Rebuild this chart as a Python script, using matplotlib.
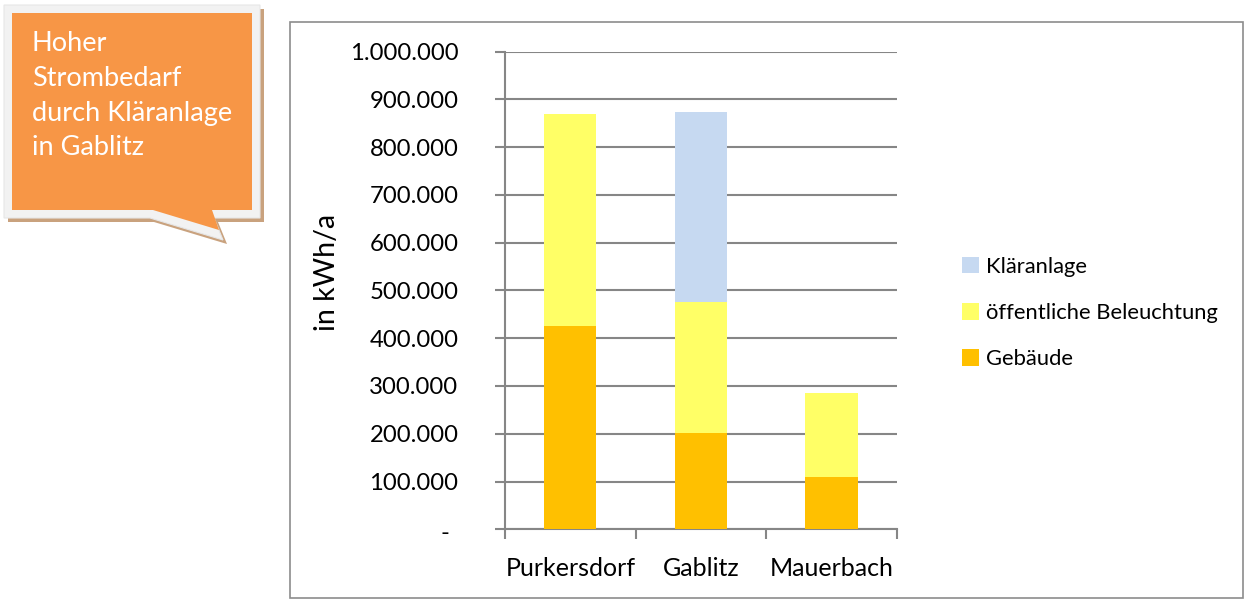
import matplotlib
matplotlib.use("Agg")
import matplotlib.pyplot as plt
from matplotlib.patches import Polygon, Rectangle
import numpy as np

plt.rcParams['font.family'] = ['Lato', 'DejaVu Sans']

categories = ["Purkersdorf", "Gablitz", "Mauerbach"]
gebaeude = [426000, 202000, 110000]
beleuchtung = [443000, 274000, 175000]
klaeranlage = [0, 397000, 0]
series_names = ["Gebäude", "öffentliche Beleuchtung", "Kläranlage"]
colors = ["#FFC000", "#FFFF66", "#C6D9F1"]
yticks = [0, 100000, 200000, 300000, 400000, 500000, 600000, 700000, 800000, 900000, 1000000]
callout_text = "Hoher\nStrombedarf\ndurch Kläranlage\nin Gablitz"

W, H = 1244, 601
fig = plt.figure(figsize=(W / 100, H / 100), dpi=100)

# overlay for frame and callout (pixel coords)
ov = fig.add_axes([0, 0, 1, 1], zorder=0)
ov.set_xlim(0, W)
ov.set_ylim(H, 0)
ov.axis("off")
ov.add_patch(Rectangle((290, 22), 953, 576, fill=False, edgecolor="#8C8C8C", linewidth=1.2))

frame = [(4, 5), (260, 5), (260, 218), (214, 218), (223, 240), (150, 218), (4, 218)]
shadow = [(x + 4, y + 4) for x, y in frame]
ov.add_patch(Polygon(shadow, closed=True, facecolor="#C9A27E", edgecolor="none"))
ov.add_patch(Polygon(frame, closed=True, facecolor="#F2F2F2", edgecolor="#E6E6E6", linewidth=0.8))
orange = [(12, 13), (252, 13), (252, 210), (212, 210), (219, 230), (153, 210), (12, 210)]
ov.add_patch(Polygon(orange, closed=True, facecolor="#F79646", edgecolor="none"))
ov.text(32, 31, callout_text, color="white", fontsize=19.5, va="top", ha="left",
        linespacing=1.49)

ax = fig.add_axes([505 / W, 1 - 529.3 / H, (896.7 - 505) / W, (529.3 - 51.5) / H], zorder=1)
ax.patch.set_alpha(0)
x = np.arange(len(categories))
width = 0.4
b1 = ax.bar(x, gebaeude, width, color=colors[0], label=series_names[0], zorder=3)
b2 = ax.bar(x, beleuchtung, width, bottom=gebaeude, color=colors[1], label=series_names[1], zorder=3)
bottom3 = np.array(gebaeude) + np.array(beleuchtung)
b3 = ax.bar(x, klaeranlage, width, bottom=bottom3, color=colors[2], label=series_names[2], zorder=3)

ax.set_xlim(-0.5, 2.5)
ax.set_ylim(0, 1000000)
ax.set_yticks(yticks)
labels = [f"{v:,.0f}".replace(",", ".") if v else "" for v in yticks]
ax.set_yticklabels(labels, fontsize=17.2)
ax.text(445, 533, "-", transform=ov.transData, ha="center", va="center", fontsize=17)
ax.yaxis.grid(True, color="#868686", linewidth=1.5, zorder=0)
ax.set_axisbelow(True)
ax.set_xticks(x)
ax.set_xticklabels(categories, fontsize=18)
ax.set_xticks([-0.5, 0.5, 1.5, 2.5], minor=True)
ax.tick_params(axis="x", which="major", length=0, pad=20)
ax.tick_params(axis="x", which="minor", length=7, width=1.5, color="#868686")
ax.tick_params(axis="y", length=7, width=1.5, color="#868686", pad=26.5)
for s in ["top", "right"]:
    ax.spines[s].set_visible(False)
for s in ["left", "bottom"]:
    ax.spines[s].set_color("#868686")
    ax.spines[s].set_linewidth(1.5)
ax.set_ylabel("in kWh/a", fontsize=20.5)
ax.yaxis.set_label_coords(340 / W, 1 - 272 / H, transform=fig.transFigure)

handles = [b3, b2, b1]
ax.legend(handles, [series_names[2], series_names[1], series_names[0]],
          loc="center left", bbox_to_anchor=(942 / W, 1 - 313 / H), bbox_transform=fig.transFigure,
          frameon=False, fontsize=15.8, handlelength=0.8, handleheight=0.8, handletextpad=0.3,
          labelspacing=1.2)

fig.savefig("out.png", dpi=100)
